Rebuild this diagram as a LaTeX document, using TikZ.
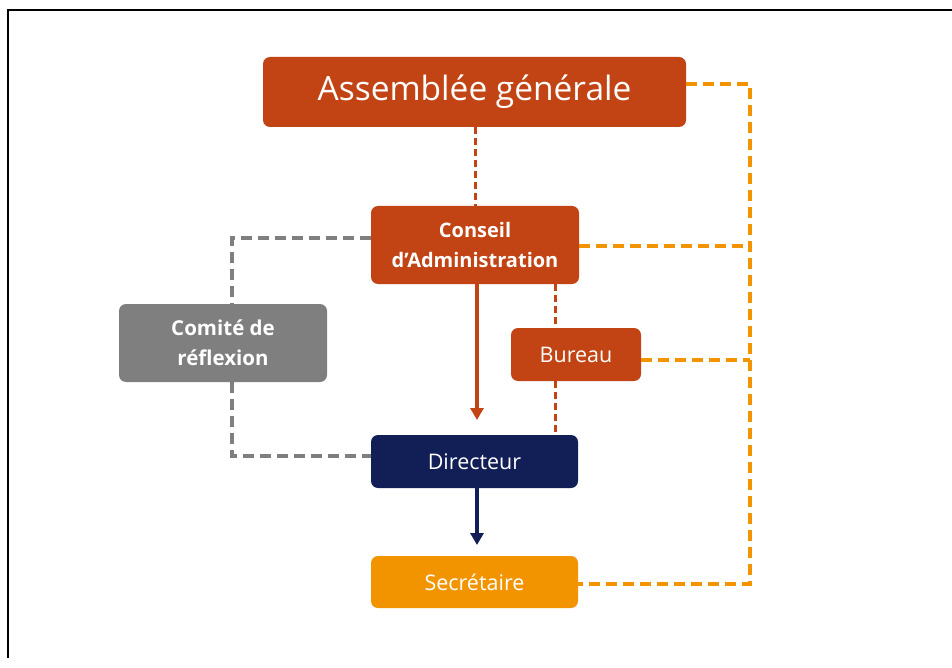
\documentclass[tikz,border=0pt]{standalone}
\usepackage{fontspec}
\setmainfont{Open Sans}
\usetikzlibrary{arrows.meta}
\definecolor{rouge}{HTML}{C24314}
\definecolor{orangeS}{HTML}{F29400}
\definecolor{marine}{HTML}{121F57}
\definecolor{grisC}{HTML}{7F7F7F}
\tikzset{
  box/.style={draw=none, rounded corners=7pt, text=white, align=center, inner sep=0pt},
  dashO/.style={orangeS, line width=3.5pt, dash pattern=on 11pt off 6pt},
  dashR/.style={rouge, line width=3pt, dash pattern=on 7pt off 4pt},
  dashG/.style={grisC, line width=3.5pt, dash pattern=on 11pt off 6pt},
}
\begin{document}
\begin{tikzpicture}[x=1pt,y=-1pt]
\useasboundingbox (0,0) rectangle (952,668);
\draw[line width=2pt] (952,10) -- (8,10) -- (8,658);
% nodes
\node[box, fill=rouge, minimum width=423pt, minimum height=70pt, font=\fontsize{33.5}{36}\selectfont] (ag) at (474.5,92) {Assemblée générale};
\node[box, fill=rouge, minimum width=208pt, minimum height=78pt, font=\fontsize{20}{30}\selectfont\bfseries] (ca) at (475,245) {Conseil\\d’Administration};
\node[box, fill=grisC, minimum width=208pt, minimum height=78pt, font=\fontsize{20.5}{30}\selectfont\bfseries] (cr) at (223,343) {Comité de\\réflexion};
\node[box, fill=rouge, minimum width=130pt, minimum height=53pt, font=\fontsize{21.5}{24}\selectfont] (bu) at (576,354.5) {Bureau};
\node[box, fill=marine, minimum width=207pt, minimum height=53pt, font=\fontsize{21.5}{24}\selectfont] (di) at (474.5,461.5) {Directeur};
\node[box, fill=orangeS, minimum width=207pt, minimum height=52pt, font=\fontsize{21.5}{24}\selectfont] (se) at (474.5,582) {Secrétaire};
% coordinates
\coordinate (r1) at (750,84);
\coordinate (r2) at (750,584);
\coordinate (g1) at (232,238);
\coordinate (g2) at (232,456);
\coordinate (arr1) at (477,420);
\coordinate (arr2) at (477,545);
% connectors
\draw[dashR] (ag.south -| 475,0) -- (ca.north -| 475,0);
\draw[rouge, line width=3.5pt, -{Triangle[length=12pt,width=13pt]}] (ca.south -| arr1) -- (arr1);
\draw[marine, line width=3.5pt, -{Triangle[length=12pt,width=13pt]}] (di.south -| arr2) -- (arr2);
\draw[dashR] (ca.south -| 555,0) -- (bu.north -| 555,0);
\draw[dashR] (bu.south -| 555,0) -- (di.north -| 555,0);
\draw[dashG] (ca.west |- g1) -- (g1) -- (cr.north -| g1);
\draw[dashG] (cr.south -| g2) -- (g2) -- (di.west |- g2);
\draw[dashO] (ag.east |- r1) -- (r1) -- (r2) -- (se.east |- r2);
\draw[dashO] (ca.east |- 0,246) -- (750,246);
\draw[dashO] (bu.east |- 0,360) -- (750,360);
\end{tikzpicture}
\end{document}
